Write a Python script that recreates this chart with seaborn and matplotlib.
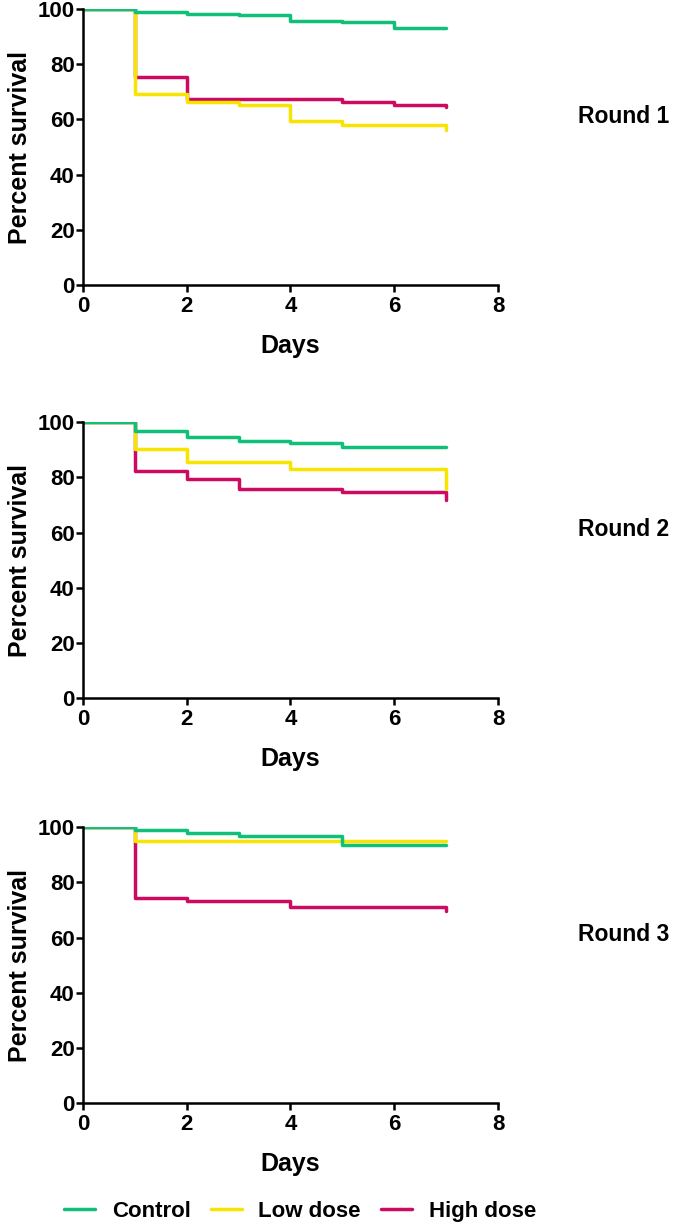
import matplotlib
matplotlib.use("Agg")
import matplotlib.pyplot as plt
import seaborn as sns

# Dados (curvas de Kaplan-Meier, dias x % sobrevivência)
groups = ["Control", "Low dose", "High dose"]
colors = ["#10BF78", "#F7E400", "#CC0A62"]
rounds = ["Round 1", "Round 2", "Round 3"]

r1_control_days = [0, 1, 2, 3, 4, 5, 6, 7]
r1_control_surv = [100, 99.0, 98.3, 97.8, 95.9, 95.4, 93.3, 93.3]
r1_low_days = [0, 1, 2, 3, 4, 5, 7]
r1_low_surv = [100, 69.2, 66.4, 65.1, 59.5, 57.9, 56.1]
r1_high_days = [0, 1, 2, 5, 6, 7]
r1_high_surv = [100, 75.4, 67.5, 66.3, 65.3, 64.4]

r2_control_days = [0, 1, 2, 3, 4, 5, 7]
r2_control_surv = [100, 96.9, 94.8, 93.2, 92.5, 90.9, 90.9]
r2_low_days = [0, 1, 2, 4, 7]
r2_low_surv = [100, 90.2, 85.5, 83.0, 75.7]
r2_high_days = [0, 1, 2, 3, 5, 7]
r2_high_surv = [100, 82.4, 79.4, 75.7, 74.9, 71.7]

r3_control_days = [0, 1, 2, 3, 5, 7]
r3_control_surv = [100, 99.0, 98.0, 96.7, 93.6, 93.6]
r3_low_days = [0, 1, 7]
r3_low_surv = [100, 95.1, 95.1]
r3_high_days = [0, 1, 2, 4, 7]
r3_high_surv = [100, 74.3, 73.4, 71.1, 69.7]

panels = [
    [(r1_control_days, r1_control_surv), (r1_low_days, r1_low_surv), (r1_high_days, r1_high_surv)],
    [(r2_control_days, r2_control_surv), (r2_low_days, r2_low_surv), (r2_high_days, r2_high_surv)],
    [(r3_control_days, r3_control_surv), (r3_low_days, r3_low_surv), (r3_high_days, r3_high_surv)],
]

sns.set_style("ticks")
plt.rcParams["font.family"] = ["Liberation Sans", "DejaVu Sans"]
plt.rcParams["font.weight"] = "bold"
plt.rcParams["text.color"] = "black"
plt.rcParams["axes.labelcolor"] = "black"
plt.rcParams["axes.edgecolor"] = "black"
plt.rcParams["xtick.color"] = "black"
plt.rcParams["ytick.color"] = "black"

fig = plt.figure(figsize=(6.85, 12.28), dpi=100)

# posições dos eixos (em fração da figura)
bottoms = [0.768, 0.4316, 0.1018]
height = 0.2245

for i, series in enumerate(panels):
    ax = fig.add_axes([0.121, bottoms[i], 0.606, height])
    # ordem: high dose por baixo, control por cima
    for j in [2, 1, 0]:
        days, surv = series[j]
        sns.lineplot(x=days, y=surv, ax=ax, color=colors[j], linewidth=2.5,
                     drawstyle="steps-post", estimator=None, label=groups[j])
    ax.set_xlim(0, 8)
    ax.set_ylim(0, 100)
    ax.set_xticks([0, 2, 4, 6, 8])
    ax.set_yticks([0, 20, 40, 60, 80, 100])
    ax.set_xlabel("Days", fontsize=18, fontweight="bold", labelpad=12)
    ax.set_ylabel("Percent survival", fontsize=18, fontweight="bold", labelpad=4)
    ax.tick_params(width=1.8, length=5, labelsize=16)
    ax.tick_params(axis="y", pad=1)
    ax.tick_params(axis="x", pad=3)
    for lab in ax.get_xticklabels() + ax.get_yticklabels():
        lab.set_fontweight("bold")
    for s in ["left", "bottom"]:
        ax.spines[s].set_linewidth(1.8)
    sns.despine(ax=ax)
    ax.get_legend().remove()
    fig.text(0.911, bottoms[i] + height * 0.61, rounds[i], fontsize=16.5,
             fontweight="bold", ha="center", va="center")
    if i == 0:
        handles, labels = ax.get_legend_handles_labels()

order = [labels.index(g) for g in groups]
fig.legend([handles[k] for k in order], groups, loc="center", ncol=3,
           bbox_to_anchor=(0.438, 0.0135), frameon=False,
           handlelength=1.4, handletextpad=0.75, columnspacing=0.9,
           prop={"weight": "bold", "size": 16})

fig.savefig("out.png", dpi=100)
